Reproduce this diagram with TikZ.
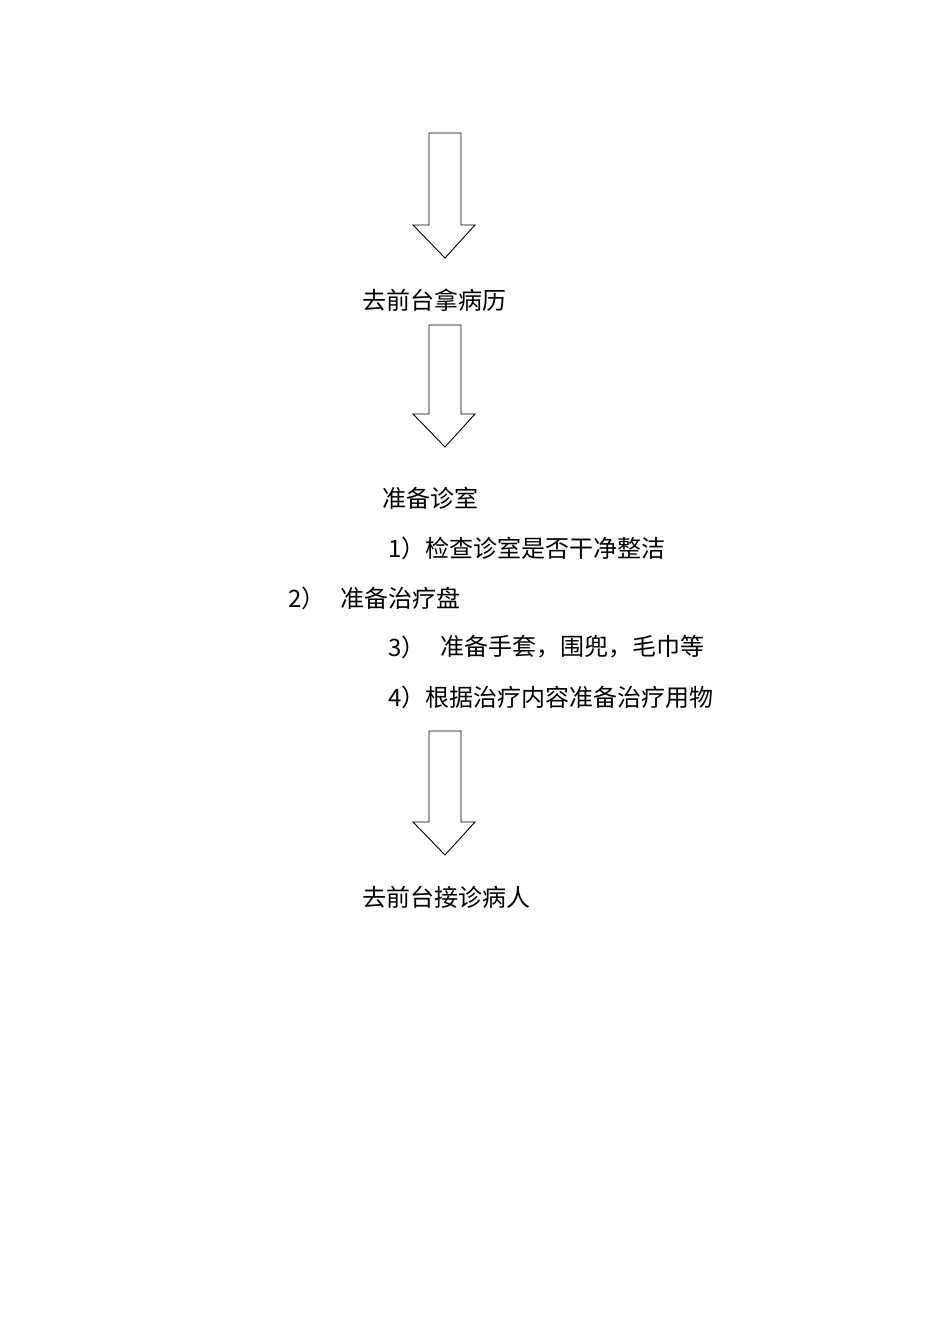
\documentclass[tikz,border=0pt]{standalone}
\usepackage{fontspec}
\newfontfamily\cjk{Noto Sans CJK SC}
\begin{document}
\begin{tikzpicture}[x=1pt,y=-1pt,
  txt/.style={anchor=west,inner sep=0pt,font=\cjk\fontsize{24}{28}\selectfont},
  blk/.style={draw=black,line width=0.9pt,fill=white}]
\useasboundingbox (0,0) rectangle (950,1344);
\newcommand\blockarrow[3]{% name, top y, tip y
  \draw[blk] (429,#2) -- (461,#2) -- (461,#3-33) -- (475,#3-33) -- (445,#3) -- (413,#3-33) -- (429,#3-33) -- cycle;
  \coordinate (#1) at (445,#3);}
\blockarrow{a1}{133}{258}
\blockarrow{a2}{325}{447}
\blockarrow{a3}{731}{855}
\node[txt] (t1) at (362,300) {去前台拿病历};
\node[txt] (t2) at (382,498) {准备诊室};
\node[txt] (t3) at (388,548) {1）检查诊室是否干净整洁};
\node[txt] (t4a) at (288,598) {2）};
\node[txt] (t4) at (340,598) {准备治疗盘};
\node[txt] (t5a) at (388,647) {3）};
\node[txt] (t5) at (440,647) {准备手套，围兜，毛巾等};
\node[txt] (t6) at (388,697) {4）根据治疗内容准备治疗用物};
\node[txt] (t7) at (362,897) {去前台接诊病人};
\end{tikzpicture}
\end{document}
